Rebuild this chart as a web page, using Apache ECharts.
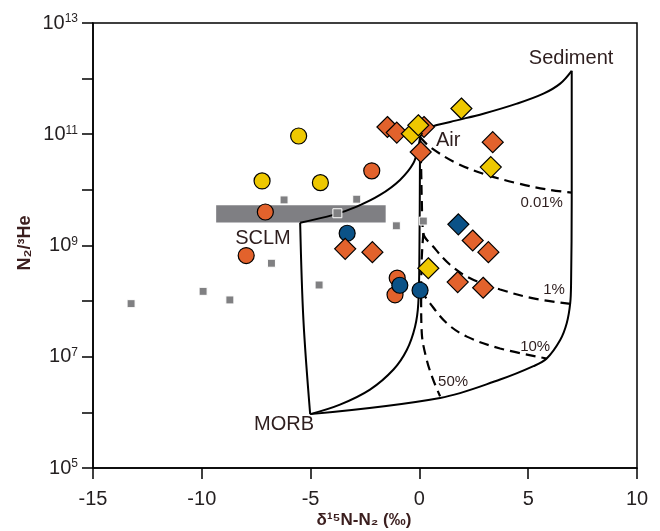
<!DOCTYPE html>
<html>
<head>
<meta charset="utf-8">
<script src="https://cdn.jsdelivr.net/npm/echarts@6/dist/echarts.min.js"></script>
<style>
html,body{margin:0;padding:0;background:#fff;}
#chart{width:660px;height:531px;}
</style>
</head>
<body>
<div id="chart"></div>
<script>
// ---------- data (x = δ15N-N2 ‰, y = N2/3He) ----------
const xTicks = [-15, -10, -5, 0, 5, 10];
const yRange = [1e5, 1e13];

// Literature data (gray squares)
const grayX = [-13.25, -9.94, -8.71, -6.80, -4.61, -1.06, -6.22, -2.88, 0.18];
const grayY = [9.0e7, 1.5e8, 1.05e8, 4.8e8, 1.95e8, 2.26e9, 6.6e9, 6.8e9, 2.75e9];
// hollow (white-outlined) square inside SCLM bar
const grayHollowX = [-3.77];
const grayHollowY = [3.8e9];

// SCLM field (gray bar): x-range and y-range
const sclmBarX = [-9.34, -1.55];
const sclmBarY = [2.6e9, 5.3e9];

// circles
const yellowCircleX = [-5.55, -7.23, -4.55];
const yellowCircleY = [9.3e10, 1.45e10, 1.35e10];
const orangeCircleX = [-2.19, -7.08, -7.96, -1.02, -1.12];
const orangeCircleY = [2.2e10, 4.0e9, 6.6e8, 2.6e8, 1.3e8];
const blueCircleX = [-3.32, -0.90, 0.03];
const blueCircleY = [1.66e9, 1.93e8, 1.57e8];

// diamonds
const orangeDiamondX = [-1.47, -1.04, 0.21, 0.06, 3.37, -3.41, -2.16, 2.45, 3.17, 1.76, 2.93];
const orangeDiamondY = [1.35e11, 1.07e11, 1.35e11, 4.8e10, 7.2e10, 8.7e8, 7.6e8, 1.23e9, 7.6e8, 2.2e8, 1.74e8];
const yellowDiamondX = [1.93, 3.28, -0.35, -0.05, 0.41];
const yellowDiamondY = [2.9e11, 2.57e10, 1.02e11, 1.45e11, 3.9e8];
const blueDiamondX = [1.79];
const blueDiamondY = [2.4e9];

// mixing curves (solid)
const airSedX = [0.03, 0.26, 1.41, 2.94, 4.48, 5.70, 6.47, 7.00];
const airSedY = [8.9e10, 1.23e11, 1.66e11, 2.34e11, 3.55e11, 5.37e11, 8.13e11, 1.38e12];
const sclmAirX = [-5.48, -3.95, -2.88, -1.81, -0.89, -0.28, -0.05, 0.03];
const sclmAirY = [2.57e9, 3.55e9, 5.0e9, 8.1e9, 1.51e10, 3.0e10, 5.9e10, 8.9e10];
const sclmMorbX = [-5.48, -5.33, -5.02];
const sclmMorbY = [2.57e9, 4.6e7, 9.3e5];
const morbAirX = [-5.02, -3.65, -2.27, -1.19, -0.58, -0.20, -0.05, 0.0, 0.03];
const morbAirY = [9.3e5, 1.38e6, 2.57e6, 5.9e6, 1.32e7, 3.47e7, 9.1e7, 7.2e8, 8.9e10];
const morbSedX = [-5.02, 0.95, 3.71, 5.24, 5.85, 6.47, 6.77, 6.93, 6.97, 7.0, 7.0];
const morbSedY = [9.3e5, 1.82e6, 3.89e6, 6.76e6, 9.3e6, 2.0e7, 4.0e7, 9.1e7, 2.1e8, 6.5e9, 1.38e12];

// dashed mixing curves (Air with MORB+sediment mixes)
const mix001X = [0.03, 0.49, 1.72, 3.10, 4.48, 5.85, 7.00];
const mix001Y = [8.9e10, 5.9e10, 3.0e10, 1.86e10, 1.32e10, 1.02e10, 8.9e9];
const mix1X = [0.03, 0.08, 0.11, 0.18, 0.64, 1.41, 2.33, 3.71, 5.24, 6.97];
const mix1Y = [8.9e10, 2.5e10, 6.5e9, 1.66e9, 9.5e8, 4.5e8, 2.57e8, 1.62e8, 1.12e8, 8.9e7];
const mix10X = [0.06, 0.49, 1.26, 2.18, 3.71, 5.85];
const mix10Y = [1.58e8, 9.1e7, 4.0e7, 2.3e7, 1.41e7, 9.3e6];
const mix50X = [0.18, 0.10, 0.08, 0.11, 0.34, 0.64, 0.95];
const mix50Y = [1.66e9, 5.0e8, 1.05e8, 2.63e7, 8.7e6, 3.8e6, 1.95e6];

// annotation text and anchor (data coords)
const annoText = ['Sediment', 'Air', 'SCLM', 'MORB'];
const annoX = [6.97, 1.32, -7.19, -6.22];
const annoY = [2.3e12, 7.8e10, 1.35e9, 6.0e5];
const pctText = ['0.01%', '1%', '10%', '50%'];
const pctX = [5.62, 6.19, 5.32, 1.55];
const pctY = [5.75e9, 1.62e8, 1.51e7, 3.47e6];

const xTitle = 'δ¹⁵N-N₂ (‰)';
const yTitle = 'N₂/³He';

// ---------- build ----------
const zip = (xs, ys) => xs.map((x, i) => [x, ys[i]]);
const FONT = 'Liberation Sans';
const TXT = '#231f20';
const ANNO = '#2e1e1e';
const NAMEC = '#3b1e1e';

const solidLine = (name, xs, ys) => ({
  name, type: 'line', data: zip(xs, ys), smooth: 0.35, symbol: 'none',
  lineStyle: {color: '#000', width: 2}, silent: true, z: 3
});
const dashedLine = (name, xs, ys) => ({
  name, type: 'line', data: zip(xs, ys), smooth: 0.35, symbol: 'none',
  lineStyle: {color: '#000', width: 2.2, type: [10, 6]}, silent: true, z: 3
});
const pts = (name, xs, ys, symbol, size, color, z, border) => ({
  name, type: 'scatter', data: zip(xs, ys), symbol, symbolSize: size,
  itemStyle: {color, borderColor: border || '#000', borderWidth: border ? 1 : 1.2, opacity: 1},
  z
});
const textSeries = (texts, xs, ys, size) => ({
  type: 'scatter', silent: true, z: 9, symbolSize: 0,
  itemStyle: {color: '#ffffff', opacity: 1},
  data: texts.map((t, i) => ({name: t, value: [xs[i], ys[i]]})),
  label: {show: true, position: 'inside', formatter: p => p.name, fontFamily: FONT, fontSize: size, color: ANNO, opacity: 1}
});

const chart = echarts.init(document.getElementById('chart'), null, {renderer: 'canvas'});
chart.setOption({
  animation: false,
  backgroundColor: '#fff',
  grid: {left: 93, right: 23, top: 23, bottom: 63, show: true, borderColor: '#000', borderWidth: 1.5, backgroundColor: 'transparent'},
  graphic: [
    {type: 'text', x: 364, y: 520, silent: true,
     style: {text: xTitle, align: 'center', verticalAlign: 'middle', font: 'bold 17px "Liberation Sans"', fill: NAMEC}},
    {type: 'text', x: 25, y: 243, rotation: Math.PI / 2, silent: true,
     style: {text: yTitle, align: 'center', verticalAlign: 'middle', font: 'bold 18px "Liberation Sans"', fill: NAMEC}}
  ],
  xAxis: {
    type: 'value', min: xTicks[0], max: xTicks[xTicks.length - 1], interval: 5,
    axisLine: {onZero: false, lineStyle: {color: '#000', width: 1.5}},
    axisTick: {length: 11, lineStyle: {color: '#000', width: 1.5}},
    axisLabel: {margin: 21, fontFamily: FONT, fontSize: 20, color: TXT},
    splitLine: {show: false}
  },
  yAxis: {
    type: 'log', logBase: 10, min: yRange[0], max: yRange[1],
    axisLine: {onZero: false, lineStyle: {color: '#000', width: 1.5}},
    axisTick: {length: 11, lineStyle: {color: '#000', width: 1.5}},
    axisLabel: {
      margin: 15,
      formatter: v => { const e = Math.round(Math.log10(v)); return e % 2 === 0 ? '' : '{b|10}{s|' + e + '}'; },
      rich: {
        b: {fontFamily: FONT, fontSize: 20, color: TXT},
        s: {fontFamily: FONT, fontSize: 12, color: TXT, verticalAlign: 'top'}
      }
    },
    splitLine: {show: false}
  },
  series: [
    {
      type: 'line', data: [], silent: true, z: 1,
      markArea: {
        silent: true,
        itemStyle: {color: '#7f7f83', opacity: 1},
        data: [[{coord: [sclmBarX[0], sclmBarY[0]]}, {coord: [sclmBarX[1], sclmBarY[1]]}]]
      }
    },
    solidLine('Air-Sediment', airSedX, airSedY),
    solidLine('SCLM-Air', sclmAirX, sclmAirY),
    solidLine('SCLM-MORB', sclmMorbX, sclmMorbY),
    solidLine('MORB-Air', morbAirX, morbAirY),
    solidLine('MORB-Sediment', morbSedX, morbSedY),
    dashedLine('0.01%', mix001X, mix001Y),
    dashedLine('1%', mix1X, mix1Y),
    dashedLine('10%', mix10X, mix10Y),
    dashedLine('50%', mix50X, mix50Y),
    pts('Literature', grayX, grayY, 'rect', 8, '#808082', 4, '#ffffff'),
    pts('Literature (hollow)', grayHollowX, grayHollowY, 'rect', 9, '#808082', 4, '#ffffff'),
    pts('Yellow circles', yellowCircleX, yellowCircleY, 'circle', 16, '#eec800', 5),
    pts('Orange circles', orangeCircleX, orangeCircleY, 'circle', 16, '#e2622c', 5),
    pts('Blue circles', blueCircleX, blueCircleY, 'circle', 16, '#0b5287', 6),
    pts('Orange diamonds', orangeDiamondX, orangeDiamondY, 'diamond', 21, '#e2622c', 7),
    pts('Yellow diamonds', yellowDiamondX, yellowDiamondY, 'diamond', 21, '#eec800', 8),
    pts('Blue diamonds', blueDiamondX, blueDiamondY, 'diamond', 21, '#0b5287', 8),
    textSeries(annoText, annoX, annoY, 20),
    textSeries(pctText, pctX, pctY, 15)
  ]
});
</script>
</body>
</html>
